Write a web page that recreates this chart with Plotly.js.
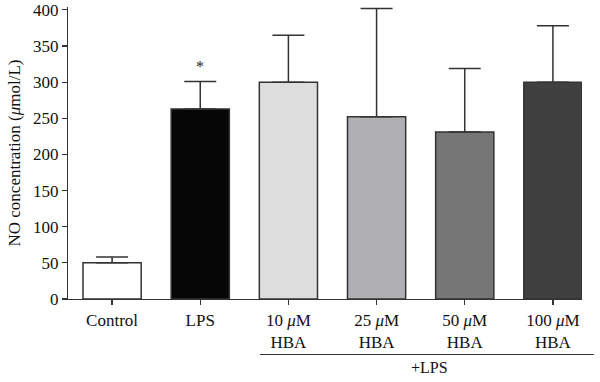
<!DOCTYPE html>
<html>
<head>
<meta charset="utf-8">
<script src="https://cdn.plot.ly/plotly-3.0.1.min.js"></script>
<style>html,body{margin:0;padding:0;background:#fff;}#chart{width:600px;height:382px;}</style>
</head>
<body>
<div id="chart"></div>
<script>
const categories = ["Control", "LPS", "10 <i>μ</i>M<br>HBA", "25 <i>μ</i>M<br>HBA", "50 <i>μ</i>M<br>HBA", "100 <i>μ</i>M<br>HBA"];
const values = [50, 263, 300, 252, 231, 300];
const errorsUp = [8, 38, 65, 150, 88, 78];
const barColors = ["#ffffff", "#060606", "#dcdddc", "#b0afb3", "#767676", "#404040"];
const yTicks = [0, 50, 100, 150, 200, 250, 300, 350, 400];
const starLabel = {category: "LPS", value: 321, text: "*"};
const groupLabel = "+LPS";

const font = "Liberation Serif, Times New Roman, serif";

const data = [{
  type: "bar",
  x: categories,
  y: values,
  width: 0.66,
  marker: {color: barColors, line: {color: "#333333", width: 1.5}},
  error_y: {type: "data", symmetric: false, array: errorsUp, arrayminus: values.map(() => 0),
            color: "#333333", thickness: 1.5, width: 16},
  hoverinfo: "none"
}];

const layout = {
  width: 600, height: 382,
  margin: {l: 68, r: 18, t: 7, b: 83},
  paper_bgcolor: "#fff", plot_bgcolor: "#fff",
  showlegend: false,
  font: {family: font, color: "#111"},
  xaxis: {
    type: "category",
    range: [-0.5, 5.33],
    showline: true, linecolor: "#333", linewidth: 1.2,
    ticks: "outside", ticklen: 5, tickcolor: "#333", tickwidth: 1.2,
    tickfont: {family: font, size: 17, color: "#111"},
    showgrid: false, zeroline: false
  },
  yaxis: {
    range: [0, 404],
    tickvals: yTicks,
    ticktext: yTicks.map(String),
    ticklabeloverflow: "allow",
    showline: true, linecolor: "#333", linewidth: 1.2,
    ticks: "outside", ticklen: 5, tickcolor: "#333", tickwidth: 1.2,
    tickfont: {family: font, size: 17, color: "#111"},
    showgrid: false, zeroline: false,
    title: {text: "NO concentration (<i>μ</i>mol/L)", font: {family: font, size: 17, color: "#111"}, standoff: 8}
  },
  annotations: [
    {x: starLabel.category, y: starLabel.value, xref: "x", yref: "y", text: starLabel.text,
     showarrow: false, xanchor: "center", yanchor: "middle", font: {family: font, size: 16, color: "#222"}},
    {x: 0.704, y: -0.235, xref: "paper", yref: "paper", text: groupLabel, showarrow: false,
     xanchor: "center", yanchor: "middle", font: {family: font, size: 16, color: "#111"}}
  ],
  shapes: [
    {type: "line", xref: "paper", yref: "paper", x0: 0.3735, x1: 1.023, y0: -0.19, y1: -0.19,
     line: {color: "#333", width: 1.2}},
    {type: "line", xref: "paper", yref: "paper", x0: -0.01, x1: 0, y0: 0, y1: 0,
     line: {color: "#333", width: 1.2}}
  ]
};

Plotly.newPlot("chart", data, layout, {displayModeBar: false, staticPlot: true});
</script>
</body>
</html>
